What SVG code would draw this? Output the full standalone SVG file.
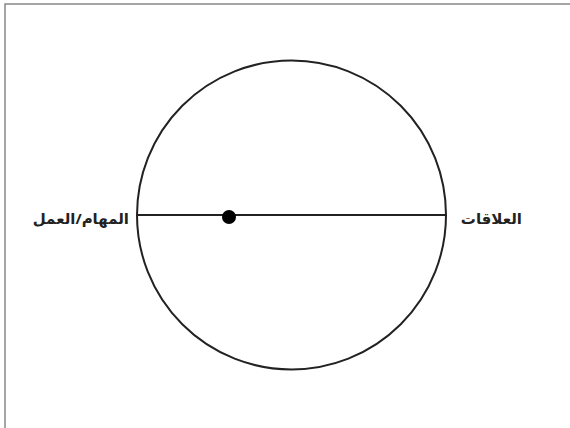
<svg xmlns="http://www.w3.org/2000/svg" width="570" height="428" viewBox="0 0 570 428">
<style>
.lbl{font-family:"Noto Sans","DejaVu Sans",sans-serif;font-size:15px;font-weight:bold;fill:#222}
.ln{fill:none;stroke:#222;stroke-width:2}
</style>
<rect x="0" y="0" width="570" height="428" fill="#fff"/>
<rect x="5" y="4" width="600" height="460" fill="none" stroke="#888" stroke-width="1.5"/>
<g id="circle"><circle cx="291.5" cy="215" r="154.5" class="ln"/></g>
<g id="connectors"><line x1="137" y1="215" x2="446" y2="215" class="ln"/></g>
<g id="dot"><circle cx="229" cy="217" r="7" fill="#000"/></g>
<g id="left-label"><text x="129" y="224" class="lbl" text-anchor="start" direction="rtl">المهام/العمل</text></g>
<g id="right-label"><text x="522" y="224" class="lbl" text-anchor="start" direction="rtl">العلاقات</text></g>
</svg>
